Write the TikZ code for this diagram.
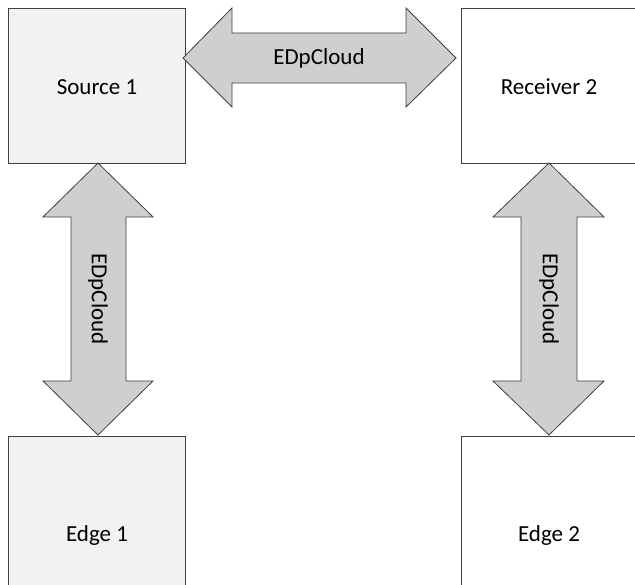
\documentclass[tikz,border=0pt]{standalone}
\usepackage{fontspec}
\setmainfont{Carlito}
\definecolor{edgeline}{HTML}{404040}
\definecolor{boxfill}{HTML}{F2F2F2}
\definecolor{arrowfill}{HTML}{D0CECE}
\begin{document}
\begin{tikzpicture}[x=1pt,y=-1pt,
  blk/.style={draw=edgeline,line width=1.3pt,minimum width=177pt,minimum height=155pt,inner sep=0pt,anchor=north west},
  lbl/.style={font=\fontsize{23}{28}\selectfont,text=black,inner sep=0pt},
  fatarrow/.style={draw=edgeline,fill=arrowfill,line width=0.8pt,line join=miter}]
\useasboundingbox (0,0) rectangle (635,585);
\clip (0,0) rectangle (635,585);
\fill[white] (0,0) rectangle (635,585);
% boxes
\node[blk,fill=boxfill] (src) at (8,8) {};
\node[blk,fill=white] (rcv) at (461,8) {};
\node[blk,fill=boxfill,minimum height=200pt] (edge1) at (8,436) {};
\node[blk,fill=white,minimum height=200pt] (edge2) at (461,436) {};
\node[lbl] (srct) at (97,87) {Source 1};
\node[lbl] (rcvt) at (549,87) {Receiver 2};
\node[lbl] (e1t) at (97,535) {Edge 1};
\node[lbl] (e2t) at (549,535) {Edge 2};
% horizontal double arrow
\path[fatarrow] (183,58) -- (232,8) -- (232,33) -- (406,33) -- (406,8) -- (456,58)
  -- (406,107) -- (406,83) -- (232,83) -- (232,107) -- cycle;
\node[lbl] (h) at (319,58) {EDpCloud};
% left vertical double arrow
\path[fatarrow] (98,163) -- (153,217) -- (126,217) -- (126,381) -- (153,381) -- (98,435)
  -- (43,381) -- (71,381) -- (71,217) -- (43,217) -- cycle;
\node[lbl,rotate=-90] (v1) at (98,299) {EDpCloud};
% right vertical double arrow
\path[fatarrow] (549,163) -- (604,217) -- (577,217) -- (577,381) -- (604,381) -- (549,435)
  -- (493,381) -- (521,381) -- (521,217) -- (493,217) -- cycle;
\node[lbl,rotate=-90] (v2) at (549,299) {EDpCloud};
\end{tikzpicture}
\end{document}
